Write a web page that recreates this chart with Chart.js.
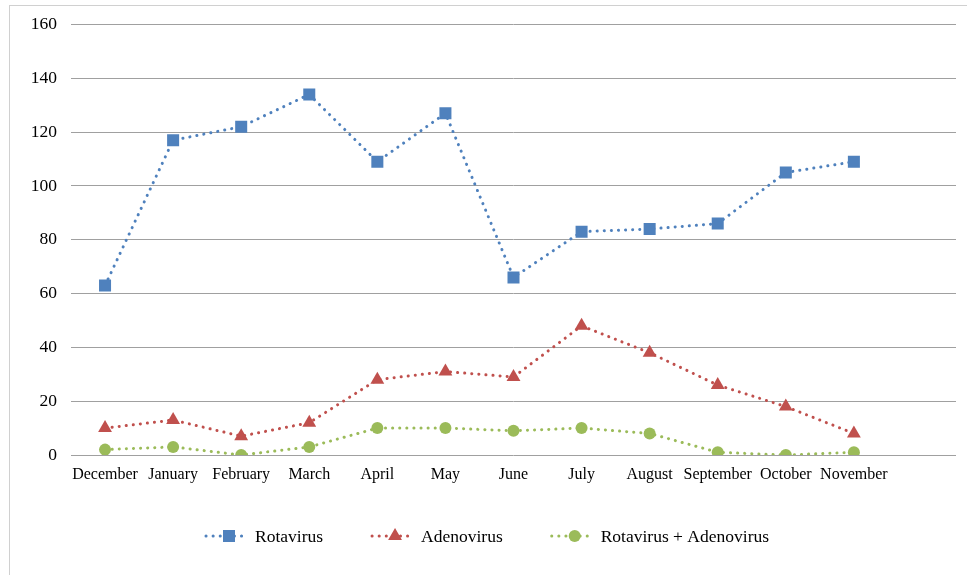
<!DOCTYPE html>
<html>
<head>
<meta charset="utf-8">
<script src="https://cdn.jsdelivr.net/npm/chart.js@4/dist/chart.umd.min.js"></script>
<style>
  html, body { margin: 0; padding: 0; background: #fff; }
  #wrap { position: relative; width: 967px; height: 575px; }
</style>
</head>
<body>
<div id="wrap"><canvas id="chart"></canvas></div>
<script>
// months, plus one empty slot the original axis keeps at the right
const months = ['December', 'January', 'February', 'March', 'April', 'May', 'June',
    'July', 'August', 'September', 'October', 'November', '']

const rotavirus = [63, 117, 122, 134, 109, 127, 66, 83, 84, 86, 105, 109]
const adenovirus = [10, 13, 7, 12, 28, 31, 29, 48, 38, 26, 18, 8]
const both = [2, 3, 0, 3, 10, 10, 9, 10, 8, 1, 0, 1]

const yTicks = { min: 0, max: 160, step: 20 }

const FONT = "'Liberation Serif', 'Times New Roman', serif"

function series(label, data, color, pointStyle, radius) {
    return {
        label,
        data,
        borderColor: color,
        backgroundColor: color,
        borderWidth: 3,
        borderDash: [0.1, 7],
        borderCapStyle: 'round',
        pointStyle,
        pointRadius: radius,
        pointHoverRadius: radius,
        pointBorderWidth: 0,
        tension: 0,
        fill: false
    }
}

const datasets = [
    series('Rotavirus', rotavirus, '#4F81BD', 'rect', 8.5),
    series('Adenovirus', adenovirus, '#C0504D', 'triangle', 8),
    series('Rotavirus + Adenovirus', both, '#9BBB59', 'circle', 6)
]

// outer frame
const framePlugin = {
    id: 'frame',
    beforeDraw(chart) {
        const ctx = chart.ctx
        ctx.save()
        ctx.strokeStyle = '#d0d0d0'
        ctx.lineWidth = 1
        ctx.strokeRect(9.5, 5.5, 1200, 1200)
        ctx.restore()
    }
}

// legend with a dotted line sample and the marker, like the original
const legendPlugin = {
    id: 'lineLegend',
    afterDraw(chart) {
        const ctx = chart.ctx
        const lineLen = 40, gap = 10, between = 48
        const y = 536
        ctx.save()
        ctx.font = `17.5px ${FONT}`
        const items = chart.data.datasets.map(ds => ({ ds, w: ctx.measureText(ds.label).width }))
        const total = items.reduce((s, it) => s + lineLen + gap + it.w, 0) + between * (items.length - 1)
        let x = 487 - total / 2
        for (const { ds, w } of items) {
            ctx.strokeStyle = ds.borderColor
            ctx.lineWidth = 3
            ctx.lineCap = 'round'
            ctx.setLineDash([0.1, 7])
            ctx.beginPath()
            ctx.moveTo(x + 1, y)
            ctx.lineTo(x + lineLen, y)
            ctx.stroke()
            ctx.setLineDash([])
            ctx.fillStyle = ds.backgroundColor
            Chart.helpers.drawPoint(ctx, {
                pointStyle: ds.pointStyle, radius: ds.pointRadius, rotation: 0, borderWidth: 0
            }, x + lineLen / 2 + 4, y)
            ctx.fillStyle = '#000'
            ctx.textBaseline = 'middle'
            ctx.fillText(ds.label, x + lineLen + gap, y + 1)
            x += lineLen + gap + w + between
        }
        ctx.restore()
    }
}

new Chart(document.getElementById('chart'), {
    type: 'line',
    data: { labels: months, datasets },
    options: {
        responsive: true,
        maintainAspectRatio: false,
        animation: false,
        layout: { padding: { left: 0, right: 11, top: 16, bottom: 80 } },
        plugins: {
            legend: { display: false },
            tooltip: { enabled: false }
        },
        scales: {
            x: {
                offset: true,
                grid: { display: false, drawTicks: false },
                border: { display: false },
                ticks: {
                    color: '#000',
                    font: { family: FONT, size: 16 },
                    padding: 10,
                    maxRotation: 0,
                    autoSkip: false
                },
                afterFit(scale) { scale.height = 40 }
            },
            y: {
                min: yTicks.min,
                max: yTicks.max,
                grid: { color: '#a0a0a0', lineWidth: 1, drawTicks: false },
                border: { display: false },
                ticks: {
                    stepSize: yTicks.step,
                    color: '#000',
                    font: { family: FONT, size: 17.5 },
                    padding: 14
                },
                afterFit(scale) { scale.width = 71 }
            }
        }
    },
    plugins: [framePlugin, legendPlugin]
})
</script>
</body>
</html>
